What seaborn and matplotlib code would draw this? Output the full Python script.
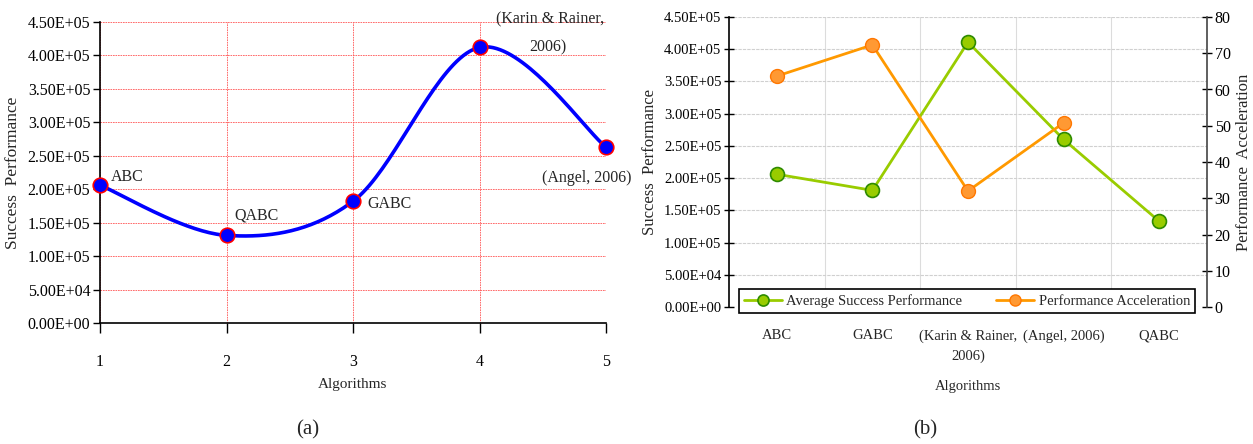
import numpy as np
import pandas as pd
import matplotlib
matplotlib.use("Agg")
import matplotlib.pyplot as plt
import seaborn as sns

# ---------------- data ----------------
# panel (a)
a_x = [1, 2, 3, 4, 5]
a_values = [2.06e5, 1.31e5, 1.82e5, 4.12e5, 2.63e5]
a_labels = ["ABC", "QABC", "GABC", "(Karin & Rainer,\n2006)", "(Angel, 2006)"]

# panel (b)
b_categories = ["ABC", "GABC", "(Karin & Rainer,\n2006)", "(Angel, 2006)", "QABC"]
b_success = [2.06e5, 1.81e5, 4.11e5, 2.60e5, 1.33e5]
b_accel = [63.7, 72.3, 32.0, 50.8, np.nan]

left_ticks = [0, 5e4, 1e5, 1.5e5, 2e5, 2.5e5, 3e5, 3.5e5, 4e5, 4.5e5]
right_ticks = [0, 10, 20, 30, 40, 50, 60, 70, 80]

sns.set_theme(style="white")
plt.rcParams["font.family"] = ["Liberation Serif", "DejaVu Serif"]
plt.rcParams["axes.unicode_minus"] = False


def sci_fmt(v):
    return "%.2E" % v


def catmull_rom(xs, ys, n=40):
    P = np.column_stack([xs, ys]).astype(float)
    P = np.vstack([P[0], P, P[-1]])
    out = []
    for i in range(1, len(P) - 2):
        p0, p1, p2, p3 = P[i - 1], P[i], P[i + 1], P[i + 2]
        t = np.linspace(0, 1, n)[:, None]
        seg = 0.5 * ((2 * p1) + (-p0 + p2) * t + (2 * p0 - 5 * p1 + 4 * p2 - p3) * t ** 2
                     + (-p0 + 3 * p1 - 3 * p2 + p3) * t ** 3)
        out.append(seg if i == 1 else seg[1:])
    arr = np.vstack(out)
    return arr[:, 0], arr[:, 1]


fig = plt.figure(figsize=(12.53, 4.44), dpi=100)
fs = 11.5

# ---------------- panel (a) ----------------
ax = fig.add_axes([100 / 1253, 1 - 323 / 444, (606 - 100) / 1253, (323 - 22) / 444])
sx, sy = catmull_rom(a_x, a_values)
smooth = pd.DataFrame({"x": sx, "y": sy})
sns.lineplot(data=smooth, x="x", y="y", ax=ax, color="#0000ff", lw=2.6, sort=False, zorder=3)
pts = pd.DataFrame({"x": a_x, "y": a_values})
sns.scatterplot(data=pts, x="x", y="y", ax=ax, s=110, marker="o", color="#0000ff",
                edgecolor="#ff0000", linewidth=1.2, zorder=4, clip_on=False)
ax.set_xlim(1, 5)
ax.set_ylim(0, 4.5e5)
ax.set_xticks(a_x)
ax.set_yticks(left_ticks)
ax.set_yticklabels([sci_fmt(v) for v in left_ticks])
ax.grid(True, color="#ff5555", linestyle=(0, (2, 1)), linewidth=0.6)
for s in ["top", "right"]:
    ax.spines[s].set_visible(False)
for s in ["left", "bottom"]:
    ax.spines[s].set_color("black")
    ax.spines[s].set_linewidth(1.2)
ax.tick_params(axis="y", direction="out", length=5, width=1, colors="black", labelsize=fs, pad=2, left=True)
ax.tick_params(axis="x", direction="out", length=7, width=1, colors="black", labelsize=fs, pad=15, bottom=True)
ax.set_xlabel("Algorithms", fontsize=fs - 0.5, labelpad=6)
ax.set_ylabel("Success  Performance", fontsize=fs + 1, labelpad=5)

offsets = [(8, 6), (6, 14), (10, -2), (12, 4), (-46, -22)]
for xv, yv, lab, off in zip(a_x, a_values, a_labels, offsets):
    if lab.startswith("(Karin"):
        ax.annotate("(Karin & Rainer,", (xv, yv), xytext=(12, 20), textcoords="offset points",
                    fontsize=fs, ha="left", va="center", annotation_clip=False)
        ax.annotate("2006)", (xv, yv), xytext=(36, 0), textcoords="offset points",
                    fontsize=fs, ha="left", va="center", annotation_clip=False)
    else:
        ax.annotate(lab, (xv, yv), xytext=off, textcoords="offset points",
                    fontsize=fs, ha="left", va="center", annotation_clip=False)

# ---------------- panel (b) ----------------
bx = fig.add_axes([729 / 1253, 1 - 307 / 444, (1207 - 729) / 1253, (307 - 17) / 444])
pos = np.arange(len(b_categories))
green_line = "#99cc00"
green_edge = "#2e8b00"
orange_line = "#ff9900"
orange_fill = "#ff9933"
orange_edge = "#ff7700"

dfb = pd.DataFrame({"pos": pos, "success": b_success, "accel": b_accel})
sns.lineplot(data=dfb, x="pos", y="success", ax=bx, color=green_line, lw=2, marker="o",
             markersize=10, markerfacecolor=green_line, markeredgecolor=green_edge,
             markeredgewidth=1.2, label="Average Success Performance", legend=False, zorder=3)
bx.set_xlim(-0.5, len(pos) - 0.5)
bx.set_ylim(0, 4.5e5)
bx.set_yticks(left_ticks)
bx.set_yticklabels([sci_fmt(v) for v in left_ticks])
bx.set_xticks(pos)
bx.set_xticklabels(b_categories, linespacing=1.7)
bx.set_xticks(pos[:-1] + 0.5, minor=True)
bx.grid(True, axis="y", which="major", color="#d0d0d0", linestyle=(0, (3, 1)), linewidth=0.8)
bx.grid(True, axis="x", which="minor", color="#dcdcdc", linestyle="-", linewidth=0.8)
bx.tick_params(axis="x", which="minor", length=0)
bx.tick_params(axis="x", which="major", length=0, labelsize=fs - 1, pad=16)
bx.tick_params(axis="y", direction="inout", length=7, width=1, colors="black", labelsize=fs - 1, pad=2, left=True)
for s in ["top", "right", "bottom"]:
    bx.spines[s].set_visible(False)
bx.spines["left"].set_color("black")
bx.spines["left"].set_linewidth(1.2)
bx.set_xlabel("Algorithms", fontsize=fs - 1, labelpad=12)
bx.set_ylabel("Success  Performance", fontsize=fs + 0.5, labelpad=4)

bx2 = bx.twinx()
sns.lineplot(data=dfb, x="pos", y="accel", ax=bx2, color=orange_line, lw=2, marker="o",
             markersize=10, markerfacecolor=orange_fill, markeredgecolor=orange_edge,
             markeredgewidth=1.0, label="Performance Acceleration", legend=False, zorder=3)
bx2.set_ylim(0, 80)
bx2.set_yticks(right_ticks)
bx2.set_xlim(-0.5, len(pos) - 0.5)
bx2.tick_params(axis="y", direction="inout", length=7, width=1, colors="black", labelsize=fs, pad=2, right=True)
for s in ["top", "left", "bottom"]:
    bx2.spines[s].set_visible(False)
bx2.spines["right"].set_color("#444444")
bx2.spines["right"].set_linewidth(1.2)
bx2.set_ylabel("Performance  Acceleration", fontsize=fs + 0.5, labelpad=4)
bx2.grid(False)

h1, l1 = bx.get_legend_handles_labels()
h2, l2 = bx2.get_legend_handles_labels()
leg = fig.legend(h1 + h2, l1 + l2, loc="lower left",
                 bbox_to_anchor=(739 / 1253, 1 - 313 / 444, (1195 - 739) / 1253, 29 / 444),
                 mode="expand", ncol=2, frameon=True, fancybox=False, fontsize=fs - 1,
                 borderaxespad=0, handlelength=2.6, handletextpad=0.3, borderpad=0.35,
                 markerscale=0.8)
leg.get_frame().set_edgecolor("black")
leg.get_frame().set_linewidth(1.2)
leg.get_frame().set_facecolor("white")
leg.get_frame().set_alpha(1)

fig.text(308 / 1253, 1 - 430 / 444, "(a)", fontsize=15, ha="center", va="center")
fig.text(925 / 1253, 1 - 430 / 444, "(b)", fontsize=15, ha="center", va="center")

fig.savefig("out.png", dpi=100, facecolor="white")
